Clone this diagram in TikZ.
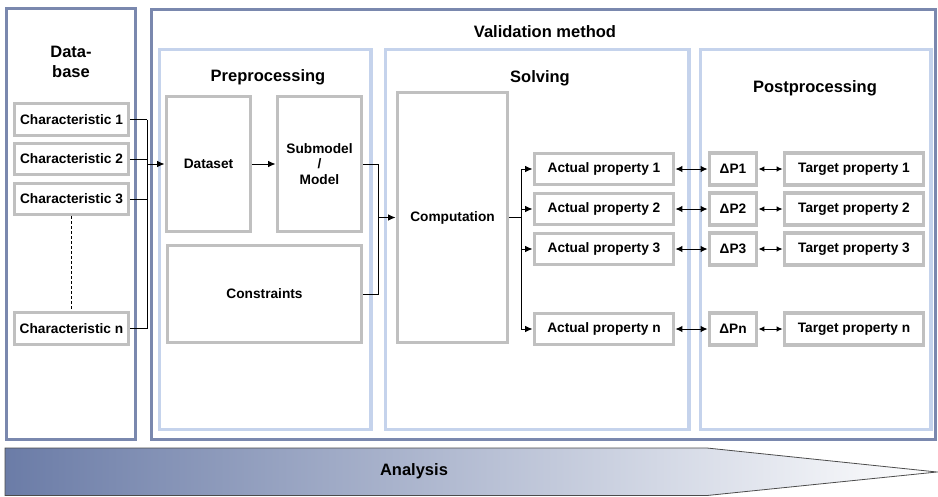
\documentclass[tikz,border=0pt]{standalone}
\usepackage{fontspec}
\setmainfont{Liberation Sans}
\usetikzlibrary{arrows.meta}
\definecolor{darkframe}{HTML}{7A88AE}
\definecolor{lightframe}{HTML}{C5D3EC}
\definecolor{greyframe}{HTML}{C0C0C0}
\definecolor{shadeleft}{HTML}{6B7CA7}
\tikzset{
  outerbox/.style={draw=darkframe, line width=3.5pt, fill=white, inner sep=0pt},
  phasebox/.style={draw=lightframe, line width=3.5pt, inner sep=0pt},
  greybox/.style={draw=greyframe, line width=3.8pt, fill=white, inner sep=0pt, align=center,
     font=\fontsize{13.7}{15.5}\selectfont\bfseries},
  titletext/.style={font=\fontsize{16.5}{20}\selectfont\bfseries, align=center, inner sep=0pt},
  conn/.style={line width=1pt, draw=black},
  arr/.style={conn, -{Latex[length=7.5pt,width=6.5pt]}},
  darr/.style={conn, {Latex[length=7pt,width=6.5pt]}-{Latex[length=7pt,width=6.5pt]}},
  sdarr/.style={conn, {Latex[length=6pt,width=5.5pt]}-{Latex[length=6pt,width=5.5pt]}},
}
\begin{document}
\begin{tikzpicture}[x=1pt,y=-1pt]
\useasboundingbox (0,0) rectangle (938,496);
% outer frames
\node[outerbox, minimum width=129pt, minimum height=431pt] (db) at (71,224) {};
\node[outerbox, minimum width=784pt, minimum height=430pt] (vm) at (543.5,224.5) {};
\node[phasebox, minimum width=211.5pt, minimum height=380pt] (pre) at (265.25,239.5) {};
\node[phasebox, minimum width=303.5pt, minimum height=380pt] (sol) at (537.25,239.5) {};
\node[phasebox, minimum width=230.5pt, minimum height=380pt] (post) at (815.75,239.5) {};
% titles
\node[titletext] (tdb) at (71,62) {Data-\\base};
\node[titletext] (tvm) at (545,32) {Validation method};
\node[titletext] (tpre) at (268,77) {Preprocessing};
\node[titletext] (tsol) at (540,78) {Solving};
\node[titletext] (tpost) at (815,88) {Postprocessing};
% database
\node[greybox, minimum width=114pt, minimum height=32pt] (c1) at (71.5,119.5) {Characteristic 1};
\node[greybox, minimum width=114pt, minimum height=31pt] (c2) at (71.5,159) {Characteristic 2};
\node[greybox, minimum width=114pt, minimum height=31pt] (c3) at (71.5,199) {Characteristic 3};
\node[greybox, minimum width=114pt, minimum height=32pt] (cn) at (71.5,328.5) {Characteristic n};
\draw[line width=0.8pt, dashed, dash pattern=on 3pt off 2pt] (c3.south) -- (cn.north);
% preprocessing
\node[greybox, minimum width=84pt, minimum height=135pt] (ds) at (208.5,164) {Dataset};
\node[greybox, minimum width=84pt, minimum height=135pt] (sm) at (319.5,164) {Submodel\\/\\Model};
\node[greybox, minimum width=194pt, minimum height=97pt] (cs) at (264.5,294) {Constraints};
% solving
\node[greybox, minimum width=110pt, minimum height=250pt] (cp) at (452.5,217.5) {Computation};
\node[greybox, minimum width=139pt, minimum height=31pt] (a1) at (604,169) {Actual property 1};
\node[greybox, minimum width=139pt, minimum height=31pt] (a2) at (604,209) {Actual property 2};
\node[greybox, minimum width=139pt, minimum height=31pt] (a3) at (604,249) {Actual property 3};
\node[greybox, minimum width=139pt, minimum height=31pt] (an) at (604,329) {Actual property n};
% postprocessing
\node[greybox, minimum width=47pt, minimum height=32pt] (d1) at (733,169) {ΔP1};
\node[greybox, minimum width=47pt, minimum height=32pt] (d2) at (733,209) {ΔP2};
\node[greybox, minimum width=47pt, minimum height=32pt] (d3) at (733,249) {ΔP3};
\node[greybox, minimum width=47pt, minimum height=32pt] (dn) at (733,329) {ΔPn};
\node[greybox, minimum width=139pt, minimum height=32pt] (t1) at (854,169) {Target property 1};
\node[greybox, minimum width=139pt, minimum height=32pt] (t2) at (854,209) {Target property 2};
\node[greybox, minimum width=139pt, minimum height=32pt] (t3) at (854,249) {Target property 3};
\node[greybox, minimum width=139pt, minimum height=32pt] (tn) at (854,329) {Target property n};
% bus 1
\coordinate (b1top) at (147,119.5);
\coordinate (b1bot) at (147,328.5);
\coordinate (b1mid) at (147,164);
\draw[conn] (c1.east) -- (c1.east -| b1top);
\draw[conn] (c2.east) -- (c2.east -| b1top);
\draw[conn] (c3.east) -- (c3.east -| b1top);
\draw[conn] (cn.east) -- (cn.east -| b1top);
\draw[conn] (b1top) -- (b1bot);
\draw[arr] (b1mid) -- (ds.west);
\draw[arr] (ds.east) -- (sm.west);
% bus 2
\coordinate (b2top) at (378,164);
\coordinate (b2bot) at (378,294);
\coordinate (b2mid) at (378,217.5);
\draw[conn] (sm.east) -- (b2top) -- (b2bot) -- (cs.east);
\draw[arr] (b2mid) -- (cp.west);
% bus 3
\coordinate (b3mid) at (521,217.5);
\coordinate (b3top) at (521,169);
\coordinate (b3bot) at (521,329);
\draw[conn] (cp.east) -- (b3mid);
\draw[conn] (b3top) -- (b3bot);
\foreach \n in {a1,a2,a3,an} { \draw[arr] (\n.west -| b3top) -- (\n.west); }
% double arrows
\foreach \a/\d/\t in {a1/d1/t1,a2/d2/t2,a3/d3/t3,an/dn/tn} {
  \draw[darr] (\a.east) -- (\d.west);
  \draw[sdarr] (\d.east) -- (\t.west);
}
% analysis arrow
\coordinate (p1) at (5,448);
\coordinate (p2) at (707,448);
\coordinate (p3) at (937,472);
\coordinate (p4) at (707,495.5);
\coordinate (p5) at (5,495.5);
\shade[left color=shadeleft, right color=white, draw=black!70, line width=0.8pt]
  (p1) -- (p2) -- (p3) -- (p4) -- (p5) -- cycle;
\node[titletext] (an2) at (414,471) {Analysis};
\end{tikzpicture}
\end{document}
